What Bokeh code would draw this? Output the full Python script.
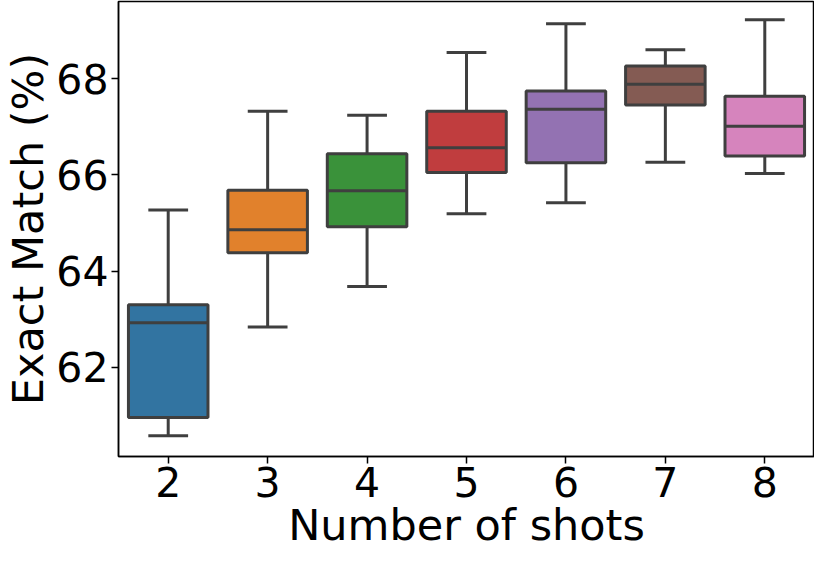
from bokeh.plotting import figure
from bokeh.models import ColumnDataSource, FactorRange, Range1d, FixedTicker
from bokeh.transform import dodge
from bokeh.embed import file_html
from bokeh.resources import INLINE

shots = ["2", "3", "4", "5", "6", "7", "8"]
lower = [60.58, 62.84, 63.68, 65.19, 65.42, 66.26, 66.03]
q1 = [60.96, 64.38, 64.92, 66.05, 66.25, 67.45, 66.39]
median = [62.93, 64.86, 65.67, 66.56, 67.36, 67.88, 67.01]
q3 = [63.30, 65.68, 66.44, 67.32, 67.74, 68.26, 67.63]
upper = [65.27, 67.32, 67.24, 68.54, 69.14, 68.60, 69.22]
colors = ["#3274a1", "#e1812c", "#3a923a", "#c03d3e", "#9372b2", "#845b53", "#d684bd"]
y_ticks = [62, 64, 66, 68]

src = ColumnDataSource(dict(shot=shots, lower=lower, q1=q1, median=median,
                            q3=q3, upper=upper, color=colors))

p = figure(width=814, height=552, x_range=FactorRange(*shots, range_padding=0),
           y_range=Range1d(60.15, 69.6), output_backend="svg", toolbar_location=None,
           min_border_left=0, min_border_right=0, min_border_top=1, min_border_bottom=0)
p.x_range.range_padding = 0
p.x_range.factor_padding = 0

FONT = "DejaVu Sans"
EDGE = "#3f3f3f"
LW = 3

p.segment(x0="shot", y0="q3", x1="shot", y1="upper", source=src, line_color=EDGE, line_width=LW)
p.segment(x0="shot", y0="lower", x1="shot", y1="q1", source=src, line_color=EDGE, line_width=LW)
p.segment(x0=dodge("shot", -0.2, range=p.x_range), y0="upper",
          x1=dodge("shot", 0.2, range=p.x_range), y1="upper", source=src,
          line_color=EDGE, line_width=LW)
p.segment(x0=dodge("shot", -0.2, range=p.x_range), y0="lower",
          x1=dodge("shot", 0.2, range=p.x_range), y1="lower", source=src,
          line_color=EDGE, line_width=LW)
p.vbar(x="shot", top="q3", bottom="q1", width=0.8, source=src, fill_color="color",
       line_color=EDGE, line_width=LW)
p.segment(x0=dodge("shot", -0.4, range=p.x_range), y0="median",
          x1=dodge("shot", 0.4, range=p.x_range), y1="median", source=src,
          line_color=EDGE, line_width=LW)

p.grid.visible = False
p.outline_line_color = "black"
p.outline_line_width = 1.5
p.background_fill_color = "white"
p.border_fill_color = "white"

p.yaxis.ticker = FixedTicker(ticks=y_ticks)
for ax in (p.xaxis[0], p.yaxis[0]):
    ax.axis_line_color = "black"
    ax.axis_line_width = 1.5
    ax.major_tick_line_color = "black"
    ax.major_tick_line_width = 1.5
    ax.major_tick_out = 7
    ax.major_tick_in = 0
    ax.minor_tick_line_color = None
    ax.major_label_text_font = FONT
    ax.major_label_text_font_size = "41px"
    ax.major_label_text_color = "black"
    ax.axis_label_text_font = FONT
    ax.axis_label_text_font_size = "43px"
    ax.axis_label_text_font_style = "normal"
    ax.axis_label_text_color = "black"
    ax.major_label_standoff = 3
    ax.axis_label_standoff = 0

p.xaxis.axis_label = "Number of shots"
p.yaxis.axis_label = "Exact Match (%)"

open("out.html", "w").write(file_html(p, INLINE))
